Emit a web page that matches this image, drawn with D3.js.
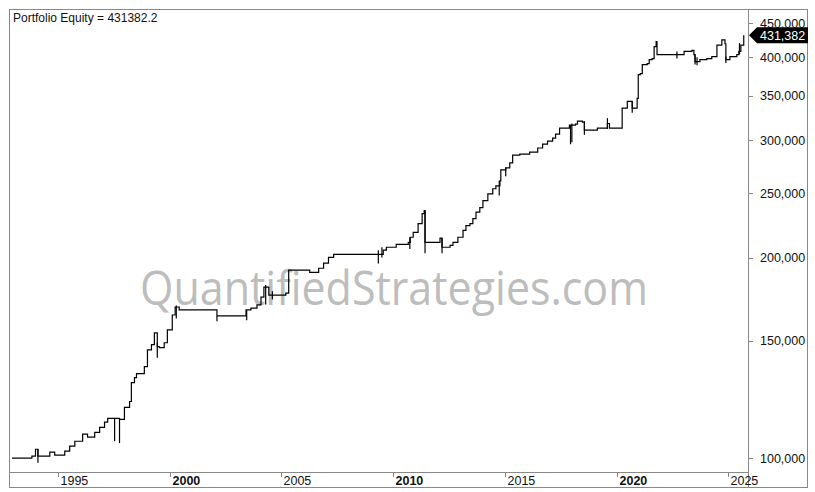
<!DOCTYPE html>
<html><head><meta charset="utf-8">
<script src="https://cdn.jsdelivr.net/npm/d3@7"></script>
<style>body{margin:0;background:#fff}svg{display:block}</style>
</head><body><svg id="c" width="815" height="492"></svg>
<script>
const dates = [1992.95,1993.84,1994.00,1994.11,1994.64,1994.86,1995.31,1995.53,1995.76,1996.11,1996.33,1996.65,1996.87,1997.09,1997.23,1997.76,1997.98,1998.21,1998.29,1998.43,1998.52,1998.87,1999.01,1999.19,1999.32,1999.45,1999.54,1999.76,1999.90,2000.12,2000.25,2000.43,2002.12,2003.42,2003.64,2003.91,2004.09,2004.22,2004.44,2005.20,2005.33,2006.27,2006.67,2006.89,2007.11,2007.34,2009.56,2009.70,2010.14,2010.68,2010.77,2010.90,2011.12,2011.30,2011.39,2011.43,2012.10,2012.19,2012.55,2012.68,2012.90,2013.13,2013.26,2013.44,2013.57,2013.71,2013.88,2014.02,2014.24,2014.46,2014.60,2014.78,2014.82,2015.04,2015.22,2015.35,2015.67,2016.11,2016.47,2016.69,2016.91,2017.14,2017.27,2017.45,2017.89,2018.16,2018.25,2018.47,2018.56,2019.14,2019.59,2019.68,2020.25,2020.48,2020.70,2020.92,2020.97,2021.06,2021.15,2021.37,2021.46,2021.59,2021.68,2021.77,2021.81,2022.93,2023.02,2023.37,2023.46,2023.51,2023.73,2024.04,2024.26,2024.49,2024.71,2024.85,2024.89,2025.07,2025.38,2025.47,2025.56,2025.69];
const equity = [100000,100700,103100,100700,102100,101000,102400,104200,106000,108600,107500,109300,111200,113200,114700,114300,119200,121600,129800,132100,133900,137200,145400,148000,154200,147000,146500,149000,155800,164000,168600,166900,163500,166900,168000,169800,174500,180600,175700,176900,191500,190100,192800,196200,200200,202300,205200,207300,209400,210900,214600,218200,225000,232900,235300,210900,213900,207300,208700,210900,214600,219700,223400,225000,228900,234100,237700,243500,249400,253800,256400,260800,270900,272800,277500,285100,286100,288100,292200,296200,299200,302300,306600,312900,316200,317300,320600,319500,310800,313000,318000,312900,335300,343400,335300,347000,376600,378000,389900,391200,396600,398000,414800,422000,403600,403600,408000,409400,403600,394000,396600,398000,400800,417000,424800,419000,396600,400800,403600,408000,417000,431382];
const spikeDates = [1994.11,1997.54,1997.76,1999.45,2000.30,2002.12,2003.45,2004.30,2004.60,2009.34,2009.50,2010.75,2011.43,2012.19,2014.75,2015.04,2017.94,2018.00,2018.56,2019.59,2020.70,2022.70,2023.51,2023.60,2024.89,2025.50];
const spikeLow = [98400,106000,105300,141500,162000,160500,161000,170000,173000,196000,200000,206000,203000,203000,248000,265000,296000,298000,306000,312000,330000,398000,390000,389000,392000,404000];
const spikeHigh = [103100,114700,114300,149000,169500,163500,166900,182000,178000,205200,207300,214600,235300,213900,260800,272800,316200,318000,320600,323900,343400,408000,403600,400000,400800,420000];
const yTicks = [100000,150000,200000,250000,300000,350000,400000,450000];
const xTicks = [1995,2000,2005,2010,2015,2020,2025];
const boldYears = [2000,2010,2020];
const lastValue = 431382.2;

const svg = d3.select("#c");
const L=10,R=748,T=9,B=472;
const x = d3.scaleLinear().domain([1992.86, 1992.86+(R-L)/22.35]).range([L,R]);
const y = d3.scaleLog().domain([95300,472500]).range([B,T]);

svg.append("rect").attr("x",9.5).attr("y",9.5).attr("width",798).attr("height",478).attr("fill","none").attr("stroke","#888");
svg.append("line").attr("x1",R+0.5).attr("x2",R+0.5).attr("y1",9.5).attr("y2",487.5).attr("stroke","#888");
svg.append("line").attr("x1",9.5).attr("x2",R).attr("y1",B+0.5).attr("y2",B+0.5).attr("stroke","#888");

svg.append("text").text("QuantifiedStrategies.com").attr("x",394).attr("y",305)
  .attr("text-anchor","middle").attr("font-family","Open Sans, sans-serif").attr("font-size",47)
  .attr("fill","#bdbdbd").attr("textLength",508).attr("lengthAdjust","spacingAndGlyphs");

const pts = dates.map((d,i)=>[d,equity[i]]);
svg.append("path").datum(pts).attr("fill","none").attr("stroke","#000").attr("stroke-width",1.2)
  .attr("d", d3.line().x(d=>x(d[0])).y(d=>y(d[1])).curve(d3.curveStepAfter));
svg.selectAll(".sp").data(spikeDates).join("line")
  .attr("x1",d=>x(d)).attr("x2",d=>x(d)).attr("y1",(d,i)=>y(spikeLow[i])).attr("y2",(d,i)=>y(spikeHigh[i]))
  .attr("stroke","#000").attr("stroke-width",1.2);

const yg = svg.append("g");
yTicks.forEach(v=>{
  yg.append("line").attr("x1",R).attr("x2",R+5).attr("y1",Math.round(y(v))+0.5).attr("y2",Math.round(y(v))+0.5).attr("stroke","#888");
  yg.append("text").text(d3.format(",")(v)).attr("x",R+12).attr("y",y(v)+4.5)
    .attr("font-family","Liberation Sans, Arial").attr("font-size",12.5).attr("fill","#111");
});
const xg = svg.append("g");
xTicks.forEach(v=>{
  const px = Math.round(x(v))+0.5;
  xg.append("line").attr("x1",px).attr("x2",px).attr("y1",B).attr("y2",B+5).attr("stroke","#888");
  xg.append("text").text(v).attr("x",px+2).attr("y",484.5)
    .attr("font-family","Liberation Sans, Arial").attr("font-size",12.5)
    .attr("font-weight",boldYears.includes(v)?"bold":"normal").attr("fill","#111");
});

const ly = y(lastValue);
svg.append("path").attr("d",`M${R+1},${ly} L${R+9},${ly-8} L808,${ly-8} L808,${ly+8} L${R+9},${ly+8} Z`).attr("fill","#000");
svg.append("text").text(d3.format(",")(Math.round(lastValue))).attr("x",R+12).attr("y",ly+4.5)
  .attr("font-family","Liberation Sans, Arial").attr("font-size",12.5).attr("fill","#fff");

svg.append("text").text("Portfolio Equity = "+lastValue).attr("x",13).attr("y",22)
  .attr("font-family","Liberation Sans, Arial").attr("font-size",12).attr("fill","#111");
</script></body></html>
